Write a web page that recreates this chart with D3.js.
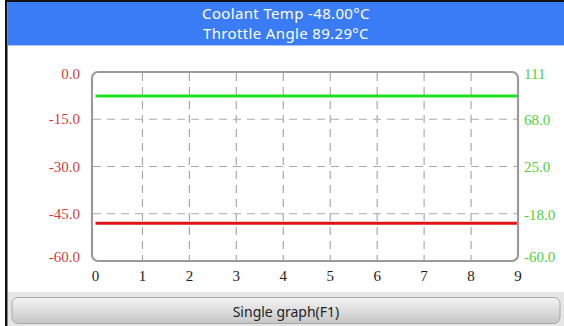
<!DOCTYPE html>
<html>
<head>
<meta charset="utf-8">
<script src="https://cdn.jsdelivr.net/npm/d3@7"></script>
<style>
  html, body { margin: 0; padding: 0; background: #fff; }
  svg { display: block; }
</style>
</head>
<body>
<svg id="chart" width="564" height="326"></svg>
<script>
// Readout titles
const titles = ["Coolant Temp -48.00°C", "Throttle Angle 89.29°C"];

// Time axis (samples)
const xTicks = [0, 1, 2, 3, 4, 5, 6, 7, 8, 9];

// Left axis: coolant temperature
const leftDomain = [-60, 0];
const leftTicks = [0.0, -15.0, -30.0, -45.0, -60.0];
const coolant = [-48, -48, -48, -48, -48, -48, -48, -48, -48, -48];

// Right axis: throttle angle
const rightDomain = [-60, 111];
const rightTicks = [111, 68.0, 25.0, -18.0, -60.0];
const throttle = [89.29, 89.29, 89.29, 89.29, 89.29, 89.29, 89.29, 89.29, 89.29, 89.29];

const buttonLabel = "Single graph(F1)";

const svg = d3.select("#chart");
const W = 564, H = 326;

// Outer frame and header band
svg.append("rect").attr("x", 0).attr("y", 0).attr("width", W).attr("height", H).attr("fill", "#fff");
svg.append("rect").attr("x", 5).attr("y", 0).attr("width", W - 5).attr("height", 2).attr("fill", "#111");
svg.append("rect").attr("x", 8).attr("y", 2).attr("width", W - 8).attr("height", 43).attr("fill", "#3a7cf6");
svg.append("rect").attr("x", 8).attr("y", 45).attr("width", W - 8).attr("height", 1).attr("fill", "#a9c6fa");

svg.selectAll("text.title").data(titles).join("text")
  .attr("class", "title")
  .attr("x", 286).attr("y", (d, i) => 13 + i * 20)
  .attr("text-anchor", "middle").attr("dominant-baseline", "central")
  .attr("fill", "#fff")
  .style("font-family", "'Noto Sans', sans-serif").style("font-size", "15px")
  .style("letter-spacing", "0.35px")
  .text(d => d);

// Scales
const x = d3.scaleLinear().domain([0, 9]).range([95.5, 518]);
const yL = d3.scaleLinear().domain(leftDomain).range([261, 72]);
const yR = d3.scaleLinear().domain(rightDomain).range([261, 72]);

// Grid
const grid = svg.append("g").attr("stroke", "#aaa").attr("stroke-width", 1.2)
  .attr("stroke-dasharray", "8,6").attr("fill", "none");
grid.selectAll("line.h").data(leftTicks.filter(v => v > leftDomain[0] && v < leftDomain[1])).join("line")
  .attr("x1", 93).attr("x2", 517)
  .attr("y1", d => yL(d)).attr("y2", d => yL(d));
grid.selectAll("line.v").data(xTicks.filter(v => v > 0 && v < 9)).join("line")
  .attr("x1", d => x(d)).attr("x2", d => x(d))
  .attr("y1", 73).attr("y2", 260);

// Series lines
const lineL = d3.line().x((d, i) => x(xTicks[i])).y(d => yL(d));
const lineR = d3.line().x((d, i) => x(xTicks[i])).y(d => yR(d));
svg.append("path").datum(throttle).attr("d", lineR)
  .attr("fill", "none").attr("stroke", "#1ee01e").attr("stroke-width", 3);
svg.append("path").datum(coolant).attr("d", lineL)
  .attr("fill", "none").attr("stroke", "#e01414").attr("stroke-width", 3);

// Plot frame
svg.append("rect").attr("x", 92).attr("y", 72).attr("width", 426).attr("height", 189)
  .attr("rx", 6).attr("ry", 6)
  .attr("fill", "none").attr("stroke", "#9a9a9a").attr("stroke-width", 2.2);

// Axis labels
const clampY = y => Math.max(73.5, Math.min(257, y));
const tickFont = "'Liberation Serif', serif";
svg.selectAll("text.yl").data(leftTicks).join("text")
  .attr("class", "yl")
  .attr("x", 80).attr("y", d => clampY(yL(d)))
  .attr("text-anchor", "end").attr("dominant-baseline", "central")
  .attr("fill", "#d23c3c")
  .style("font-family", tickFont).style("font-size", "15px")
  .text(d => d.toFixed(1));

svg.selectAll("text.yr").data(rightTicks).join("text")
  .attr("class", "yr")
  .attr("x", 524).attr("y", d => clampY(yR(d)))
  .attr("text-anchor", "start").attr("dominant-baseline", "central")
  .attr("fill", "#4fcf3c")
  .style("font-family", tickFont).style("font-size", "15px")
  .text(d => d === 111 ? "111" : d.toFixed(1));

svg.selectAll("text.xl").data(xTicks).join("text")
  .attr("class", "xl")
  .attr("x", d => x(d)).attr("y", 276)
  .attr("text-anchor", "middle").attr("dominant-baseline", "central")
  .attr("fill", "#222")
  .style("font-family", tickFont).style("font-size", "15px")
  .text(d => d);

// Bottom toolbar with button
svg.append("rect").attr("x", 8).attr("y", 292).attr("width", W - 8).attr("height", H - 292).attr("fill", "#e6e6e6");
const defs = svg.append("defs");
const grad = defs.append("linearGradient").attr("id", "btn").attr("x1", 0).attr("y1", 0).attr("x2", 0).attr("y2", 1);
grad.append("stop").attr("offset", "0%").attr("stop-color", "#f4f4f4");
grad.append("stop").attr("offset", "100%").attr("stop-color", "#c6c6c6");
svg.append("rect").attr("x", 12).attr("y", 297.5).attr("width", 548).attr("height", 26)
  .attr("rx", 6).attr("ry", 6)
  .attr("fill", "url(#btn)").attr("stroke", "#a8a8a8").attr("stroke-width", 1);
svg.append("text")
  .attr("x", 286).attr("y", 311)
  .attr("text-anchor", "middle").attr("dominant-baseline", "central")
  .attr("fill", "#222")
  .style("font-family", "'Noto Sans', sans-serif").style("font-size", "14px")
  .text(buttonLabel);

// Left frame edge
svg.append("rect").attr("x", 5).attr("y", 0).attr("width", 2.5).attr("height", H).attr("fill", "#111");
</script>
</body>
</html>
